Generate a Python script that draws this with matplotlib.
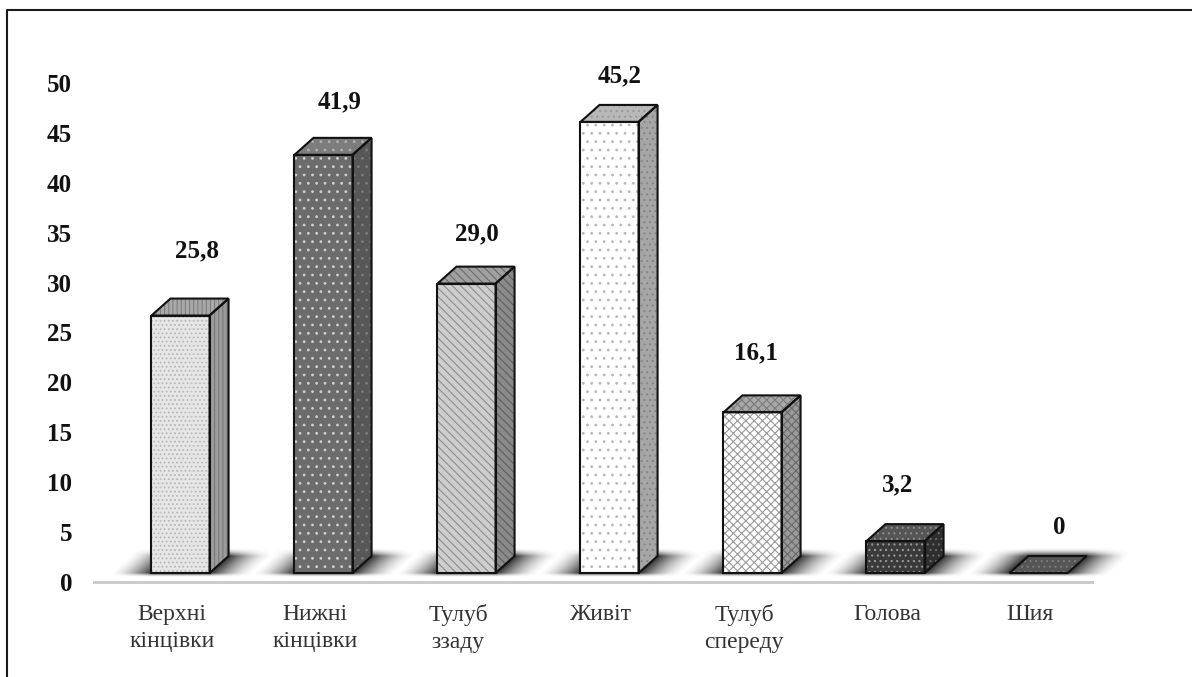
import numpy as np
import matplotlib
matplotlib.use("Agg")
import matplotlib.pyplot as plt
from matplotlib.patches import Polygon
from matplotlib.lines import Line2D

# ---- data -------------------------------------------------------------
categories = ["Верхні\nкінцівки", "Нижні\nкінцівки", "Тулуб\nззаду", "Живіт",
              "Тулуб\nспереду", "Голова", "Шия"]
values = [25.8, 41.9, 29.0, 45.2, 16.1, 3.2, 0.0]
y_ticks = [0, 5, 10, 15, 20, 25, 30, 35, 40, 45, 50]

# ---- styling ----------------------------------------------------------
plt.rcParams["font.family"] = ["Liberation Serif", "DejaVu Serif"]
plt.rcParams["hatch.linewidth"] = 0.8

# (face colour, hatch, hatch colour) for front / side / top of each column
face_styles = [
    (("#e6e6e6", "....", "#b8b8b8"), ("#9c9c9c", "||||", "#7a7a7a"), ("#a8a8a8", "||||", "#808080")),
    (("#6c6c6c", "..", "#d0d0d0"), ("#575757", "..", "#7c7c7c"), ("#7c7c7c", "..", "#b0b0b0")),
    (("#cdcdcd", "\\\\\\\\", "#8c8c8c"), ("#8a8a8a", "\\\\\\\\", "#5e5e5e"), ("#a0a0a0", "\\\\\\\\", "#6c6c6c")),
    (("#ffffff", "..", "#b8b8b8"), ("#a6a6a6", "...", "#868686"), ("#b8b8b8", "...", "#9a9a9a")),
    (("#ffffff", "xxxx", "#9a9a9a"), ("#9a9a9a", "xxxx", "#6a6a6a"), ("#a8a8a8", "xxxx", "#7a7a7a")),
    (("#3a3a3a", "...", "#9a9a9a"), ("#2e2e2e", "...", "#6a6a6a"), ("#555555", "...", "#8a8a8a")),
    (("#555555", "...", "#7a7a7a"), ("#555555", "...", "#7a7a7a"), ("#555555", "...", "#7a7a7a")),
]
# value-label offsets (pixels) from the top front centre of each column
label_offsets = [(16, 65), (16, 53), (10, 50), (10, 46), (3, 60), (2, 56), (21, 46)]

bar_w = 0.406      # front face width (category units)
depth_x = 0.133    # 3-D depth, horizontal
depth_y = 1.7      # 3-D depth, vertical (value units)
base = 0.9         # front floor level
shift = 0.06       # columns sit slightly right of the category tick

X0, X1 = -0.552, 6.448
Y0, Y1 = -1.2, 51.5
PX_X = 143.0       # pixels per category
PX_Y = 9.98        # pixels per value unit

fig = plt.figure(figsize=(11.92, 6.77), dpi=100)
ax = fig.add_axes([93 / 1192, (677 - 594) / 677, 1001 / 1192, (594 - 68) / 677])


def fade(d, length, power=1.6):
    return np.clip(1 - d / length, 0, 1) ** power


# ---- soft floor shadows ----------------------------------------------
SX1 = X1 + 0.25
gx = np.linspace(X0, SX1, 2400)
gy = np.linspace(Y0, 5.5, 280)
GX, GY = np.meshgrid(gx, gy)
alpha = np.zeros_like(GX)
for i, v in enumerate(values):
    xc = i + shift
    xl, xr = xc - bar_w / 2, xc + bar_w / 2
    t = np.clip((GY - base) / depth_y, 0, 1)
    left = xl + t * depth_x
    right = xr + t * depth_x
    hl = np.clip(left - GX, 0, None) * PX_X
    hr = np.clip(GX - right, 0, None) * PX_X
    va = np.clip(GY - (base + depth_y), 0, None) * PX_Y
    vb = np.clip(base - GY, 0, None) * PX_Y
    a = 0.92 * fade(hl, 42) * fade(hr, 44) * fade(va, 8) * fade(vb, 4)
    alpha = np.maximum(alpha, a)
rgba = np.zeros(GX.shape + (4,))
rgba[..., :3] = 0.12
rgba[..., 3] = alpha
ax.imshow(rgba, extent=[X0, SX1, Y0, 5.5], origin="lower", aspect="auto",
          interpolation="bilinear", zorder=1, clip_on=False)

# floor edge
ax.axhline(0, color="#c9c9c9", lw=2.0, zorder=0.5)


def face(pts, style, z):
    fc, hatch, hc = style
    ax.add_patch(Polygon(pts, closed=True, facecolor=fc, edgecolor="none", zorder=z))
    ax.add_patch(Polygon(pts, closed=True, fill=False, hatch=hatch, edgecolor=hc,
                         linewidth=0, zorder=z + 0.1))
    ax.add_patch(Polygon(pts, closed=True, fill=False, edgecolor="#111111",
                         linewidth=1.5, joinstyle="miter", zorder=z + 0.2))


# ---- 3-D columns ------------------------------------------------------
for i, v in enumerate(values):
    xc = i + shift
    xl, xr = xc - bar_w / 2, xc + bar_w / 2
    top = base + v
    front_s, side_s, top_s = face_styles[i]
    if v > 0:
        face([(xl, base), (xr, base), (xr, top), (xl, top)], front_s, 3)
        face([(xr, base), (xr + depth_x, base + depth_y), (xr + depth_x, top + depth_y),
              (xr, top)], side_s, 3)
    face([(xl, top), (xr, top), (xr + depth_x, top + depth_y),
          (xl + depth_x, top + depth_y)], top_s, 3)

    txt = "0" if v == 0 else f"{v:.1f}".replace(".", ",")
    ox, oy = label_offsets[i]
    ax.annotate(txt, xy=(xc, top), xytext=(ox, oy), textcoords="offset pixels",
                ha="center", va="center", fontsize=18, fontweight="bold",
                color="#111111", zorder=6)

# ---- axes -------------------------------------------------------------
ax.set_xlim(X0, X1)
ax.set_ylim(Y0, Y1)
ax.set_yticks(y_ticks, labels=[str(t) for t in y_ticks], fontsize=18,
              fontweight="bold", color="#111111")
ax.set_xticks(range(len(categories)), labels=categories, fontsize=17, color="#333333")
for lbl in ax.get_xticklabels():
    lbl.set_linespacing(1.4)
ax.tick_params(axis="y", length=0, pad=15)
ax.tick_params(axis="x", length=0, pad=7)
for s in ax.spines.values():
    s.set_visible(False)
ax.set_facecolor("none")

# chart frame
fig.add_artist(Line2D([6.5 / 1192, 6.5 / 1192, 1.0],
                      [0.0, 1 - 9.5 / 677, 1 - 9.5 / 677],
                      transform=fig.transFigure, color="#1a1a1a", lw=1.5))

fig.savefig("out.png", dpi=100)
